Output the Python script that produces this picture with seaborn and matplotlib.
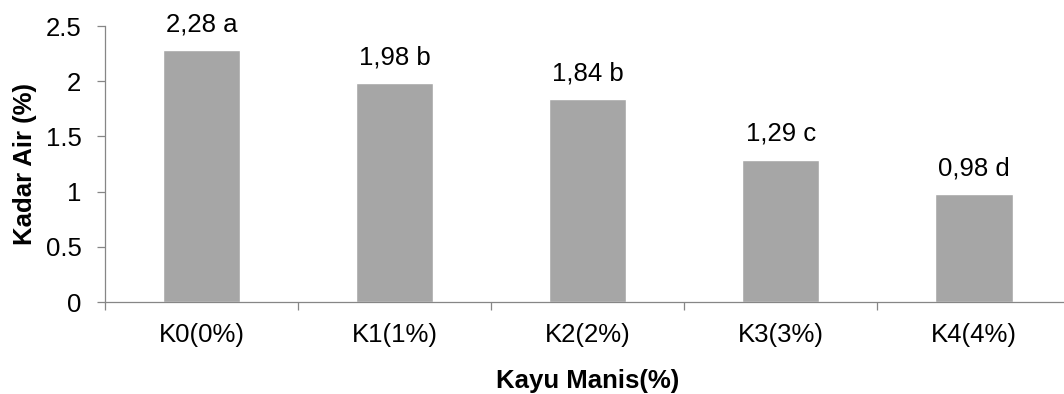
import numpy as np
import pandas as pd
import matplotlib
matplotlib.use('Agg')
import matplotlib.pyplot as plt
import seaborn as sns

categories = ['K0(0%)', 'K1(1%)', 'K2(2%)', 'K3(3%)', 'K4(4%)']
kadar_air = [2.28, 1.98, 1.84, 1.29, 0.98]
notasi = ['a', 'b', 'b', 'c', 'd']
y_ticks = [0, 0.5, 1, 1.5, 2, 2.5]
y_tick_labels = ['0', '0.5', '1', '1.5', '2', '2.5']

df = pd.DataFrame({'Perlakuan': categories, 'Kadar Air': kadar_air})

sns.set_style('white')
plt.rcParams['font.family'] = ['Liberation Sans', 'DejaVu Sans']
plt.rcParams['text.color'] = 'black'
plt.rcParams['axes.labelcolor'] = 'black'
plt.rcParams['xtick.labelcolor'] = 'black'
plt.rcParams['ytick.labelcolor'] = 'black'

fig = plt.figure(figsize=(10.64, 3.94), dpi=100)
ax = fig.add_axes([105 / 1064, 1 - 302 / 394, 965.5 / 1064, 276 / 394])

sns.barplot(data=df, x='Perlakuan', y='Kadar Air', color='#A6A6A6',
            saturation=1, width=0.4, ax=ax)

for i, (v, n) in enumerate(zip(kadar_air, notasi)):
    label = f"{v:.2f}".replace('.', ',') + ' ' + n
    ax.annotate(label, (i, v), xytext=(0, 13.5), textcoords='offset points',
                ha='center', va='baseline', fontsize=18.5, color='black')

ax.set_xlim(-0.5, 4.5)
ax.set_ylim(0, 2.5)
ax.set_yticks(y_ticks)
ax.set_yticklabels(y_tick_labels)

ax.set_xticks(np.arange(len(categories)) - 0.5, minor=True)
ax.tick_params(axis='x', which='major', length=0, pad=15, labelsize=18.5)
ax.tick_params(axis='x', which='minor', length=6, width=0.9, color='#868686',
               direction='out', bottom=True)
ax.tick_params(axis='y', length=6, width=0.9, color='#868686', direction='out',
               left=True, pad=11, labelsize=18.5)

for s in ['top', 'right']:
    ax.spines[s].set_visible(False)
for s in ['left', 'bottom']:
    ax.spines[s].set_color('#868686')
    ax.spines[s].set_linewidth(0.9)

ax.set_xlabel('Kayu Manis(%)', fontsize=18.5, fontweight='bold', labelpad=16)
ax.set_ylabel('Kadar Air (%)', fontsize=18.5, fontweight='bold', labelpad=6)

fig.savefig('out.png', dpi=100)
